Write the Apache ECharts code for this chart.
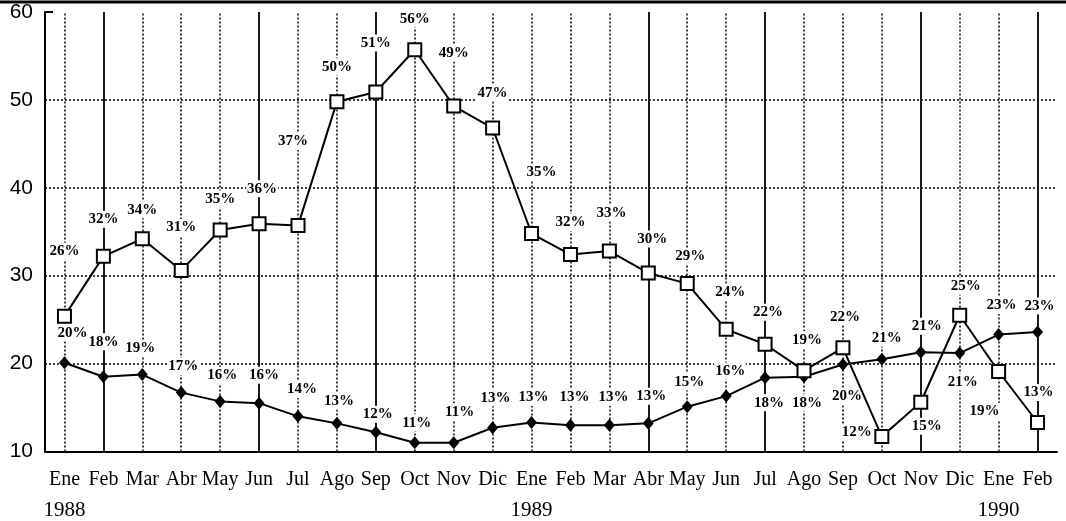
<!DOCTYPE html>
<html>
<head>
<meta charset="utf-8">
<script src="https://cdn.jsdelivr.net/npm/echarts@6/dist/echarts.min.js"></script>
<style>
  html, body { margin: 0; padding: 0; background: #fff; }
  #chart { width: 1066px; height: 521px; }
</style>
</head>
<body>
<div id="chart"></div>
<script type="text/javascript">
    // categories
    var months = ['Ene','Feb','Mar','Abr','May','Jun','Jul','Ago','Sep','Oct','Nov','Dic',
                  'Ene','Feb','Mar','Abr','May','Jun','Jul','Ago','Sep','Oct','Nov','Dic',
                  'Ene','Feb'];
    var years = {0: '1988', 12: '1989', 24: '1990'};

    // upper series (open squares)
    var upperValues = [25.4, 32.2, 34.2, 30.6, 35.2, 35.9, 35.7, 49.8, 50.9, 55.7, 49.3, 46.8,
                       34.8, 32.4, 32.8, 30.3, 29.1, 23.9, 22.2, 19.2, 21.8, 11.7, 15.6, 25.5,
                       19.1, 13.3];
    var upperLabels = [26, 32, 34, 31, 35, 36, 37, 50, 51, 56, 49, 47,
                       35, 32, 33, 30, 29, 24, 22, 19, 22, 12, 15, 25,
                       19, 13];

    // lower series (filled diamonds)
    var lowerValues = [20.1, 18.5, 18.75, 16.7, 15.7, 15.5, 14.0, 13.2, 12.2, 11.0, 11.0, 12.7,
                       13.3, 13.0, 13.0, 13.2, 15.1, 16.3, 18.4, 18.5, 19.9, 20.5, 21.3, 21.2,
                       23.3, 23.6];
    var lowerLabels = [20, 18, 19, 17, 16, 16, 14, 13, 12, 11, 11, 13,
                       13, 13, 13, 13, 15, 16, 18, 18, 20, 21, 21, 21,
                       23, 23];

    // label placement (offset of label centre from the point, px)
    var upperOffsets = [[0,-65],[0,-37],[0,-29],[0,-43],[0,-31],[3,-35],[-5,-84],[0,-35],[0,-49],[0,-31],[0,-53],[0,-35],
                        [10,-61],[0,-32],[2,-38],[4,-34],[3,-27],[4,-37],[3,-32],[3,-31],[2,-31],[-25,-4],[6,24],[6,-29],
                        [-14,40],[1,-30]];
    var lowerOffsets = [[8,-30],[0,-35],[-2,-26],[2,-26],[2,-26],[5,-28],[4,-27],[2,-22],[2,-18],[2,-20],[6,-31],[3,-30],
                        [2,-25],[4,-28],[4,-28],[3,-27],[2,-25],[4,-25],[4,25],[3,26],[4,32],[5,-21],[6,-26],[3,29],
                        [3,-29],[2,-26]];

    // drop lines drawn solid (others dotted)
    var solidLines = [1, 5, 8, 15, 18, 22, 25];

    var labelStyle = {
        show: true,
        position: 'inside',
        color: '#000',
        fontFamily: 'Liberation Serif',
        fontWeight: 'bold',
        fontSize: 15,
        backgroundColor: '#fff',
        padding: [1, 1]
    };

    var myChart = echarts.init(document.getElementById('chart'), null, {renderer: 'canvas'});
    var option = {
        animation: false,
        backgroundColor: '#fff',
        grid: {left: 45, right: 9, top: 12, bottom: 69},
        graphic: [{
            type: 'line',
            shape: {x1: 0, y1: 2, x2: 1066, y2: 2},
            style: {stroke: '#000', lineWidth: 3}
        }, {
            type: 'line',
            shape: {x1: 45, y1: 12, x2: 53, y2: 12},
            style: {stroke: '#000', lineWidth: 2}
        }],
        xAxis: {
            type: 'category',
            data: months,
            boundaryGap: true,
            axisLine: {lineStyle: {color: '#000', width: 2}},
            axisTick: {show: false},
            splitLine: {show: false},
            axisLabel: {
                interval: 0,
                margin: 16,
                color: '#000',
                formatter: function (v, i) {
                    var s = '{m|' + v + '}';
                    if (years[i]) s += '\n{y|' + years[i] + '}';
                    return s;
                },
                rich: {
                    m: {fontFamily: 'Liberation Serif', fontSize: 20, lineHeight: 24, color: '#000'},
                    y: {fontFamily: 'Liberation Serif', fontSize: 21, lineHeight: 38, color: '#000'}
                }
            }
        },
        yAxis: {
            type: 'value',
            min: 10,
            max: 60,
            interval: 10,
            axisLine: {show: true, lineStyle: {color: '#000', width: 2}},
            axisTick: {show: false},
            axisLabel: {
                color: '#000',
                fontFamily: 'Liberation Sans',
                fontSize: 21,
                margin: 12
            },
            splitLine: {
                show: true,
                showMinLine: false,
                showMaxLine: false,
                lineStyle: {color: '#000', width: 1.5, type: [2, 2]}
            }
        },
        series: [
            {
                name: 'grid',
                type: 'line',
                data: [],
                z: 1,
                silent: true,
                markLine: {
                    z: 1,
                    silent: true,
                    symbol: 'none',
                    label: {show: false},
                    animation: false,
                    data: months.map(function (m, i) {
                        var solid = solidLines.indexOf(i) >= 0;
                        return {
                            xAxis: i,
                            lineStyle: {color: '#000', width: solid ? 1.8 : 1.5, type: solid ? 'solid' : [2, 2]}
                        };
                    })
                }
            },
            {
                name: 'lower',
                type: 'line',
                z: 3,
                symbol: 'diamond',
                symbolSize: [11, 13],
                lineStyle: {color: '#000', width: 2},
                itemStyle: {color: '#000'},
                label: Object.assign({}, labelStyle, {
                    formatter: function (p) { return lowerLabels[p.dataIndex] + '%'; }
                }),
                data: lowerValues.map(function (v, i) {
                    return {value: v, label: {offset: lowerOffsets[i]}};
                })
            },
            {
                name: 'upper',
                type: 'line',
                z: 4,
                symbol: 'rect',
                symbolSize: 13,
                lineStyle: {color: '#000', width: 2},
                itemStyle: {color: '#fff', borderColor: '#000', borderWidth: 2},
                label: Object.assign({}, labelStyle, {
                    formatter: function (p) { return upperLabels[p.dataIndex] + '%'; }
                }),
                data: upperValues.map(function (v, i) {
                    return {value: v, label: {offset: upperOffsets[i]}};
                })
            }
        ]
    };

    myChart.setOption(option);
</script>
</body>
</html>
